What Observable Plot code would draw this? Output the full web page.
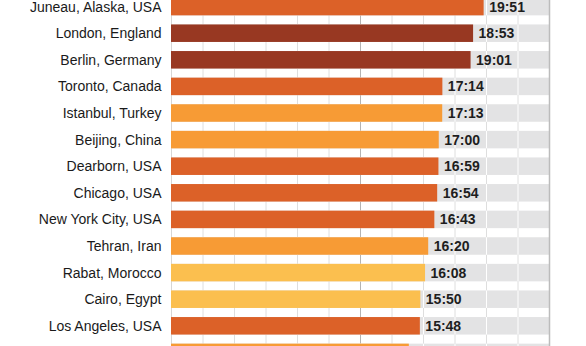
<!DOCTYPE html>
<html>
<head>
<meta charset="utf-8">
<script src="https://cdn.jsdelivr.net/npm/d3@7"></script>
<script src="https://cdn.jsdelivr.net/npm/@observablehq/plot@0.6"></script>
<style>
  html, body { margin: 0; padding: 0; background: #fff; overflow: hidden; }
</style>
</head>
<body>
<div id="chart"></div>
<script>
// Cities (top to bottom); the last row is cut off at the bottom of the picture
const cities = ["Juneau, Alaska, USA", "London, England", "Berlin, Germany", "Toronto, Canada",
  "Istanbul, Turkey", "Beijing, China", "Dearborn, USA", "Chicago, USA", "New York City, USA",
  "Tehran, Iran", "Rabat, Morocco", "Cairo, Egypt", "Los Angeles, USA", " "];
// Bar lengths in hours
const hours = [19.85, 19.18, 19.02, 17.23, 17.22, 17.0, 16.98, 16.9, 16.72, 16.33, 16.13, 15.83, 15.8, 15.1];
// Value labels as printed
const labels = ["19:51", "18:53", "19:01", "17:14", "17:13", "17:00", "16:59", "16:54", "16:43",
  "16:20", "16:08", "15:50", "15:48", ""];
// Region group (drives the colour)
const regions = ["North America", "Europe", "Europe", "North America", "Asia", "Asia",
  "North America", "North America", "North America", "Asia", "Africa", "Africa", "North America", "Asia"];
const regionNames = ["North America", "Europe", "Asia", "Africa"];
const regionColors = ["#dc6128", "#983822", "#f79b35", "#fbbf4f"];
// Axis: 0–24 hours, gridlines every 2 hours
const gridHours = [2, 4, 6, 8, 10, 14, 16, 18, 20, 22];
const midHour = [12];
const xMax = 24;

const rows = cities.map((c, i) => ({city: c, hours: hours[i], label: labels[i], region: regions[i]}));
const cells = cities.flatMap(c => gridHours.concat(midHour).map(h => ({city: c, h})));

const chart = Plot.plot({
  width: 586,
  height: 346,
  marginLeft: 171,
  marginRight: 37,
  marginTop: 0,
  marginBottom: 0,
  style: {fontFamily: "'Liberation Sans', Arial, sans-serif", fontSize: "14px", color: "#1a1a1a", background: "#fff"},
  x: {domain: [0, xMax], axis: null},
  y: {domain: cities, range: [-11.25, 370.25], paddingInner: 0.342, paddingOuter: 0.342, round: false,
      tickSize: 0, tickPadding: 10, label: null},
  color: {domain: regionNames, range: regionColors},
  marks: [
    Plot.ruleX(gridHours, {stroke: "#dedede", strokeWidth: 1}),
    Plot.ruleX(midHour, {stroke: "#b4b4b4", strokeWidth: 1}),
    Plot.ruleX([0], {stroke: "#d6d6d6", strokeWidth: 1}),
    Plot.barX(rows, {y: "city", x1: 0, x2: xMax, fill: "#e3e3e4"}),
    Plot.tickX(cells, {x: "h", y: "city", stroke: "#ffffff", strokeWidth: 1}),
    Plot.barX(rows, {y: "city", x1: 0, x2: "hours", fill: "region"}),
    Plot.text(rows, {y: "city", x: "hours", text: "label", dx: 5, textAnchor: "start",
      fontWeight: "bold", fontSize: 14, fill: "#1e1e1e"}),
    Plot.ruleX([xMax], {stroke: "#bcbcbc", strokeWidth: 1.5})
  ]
});
document.getElementById("chart").appendChild(chart);
</script>
</body>
</html>
